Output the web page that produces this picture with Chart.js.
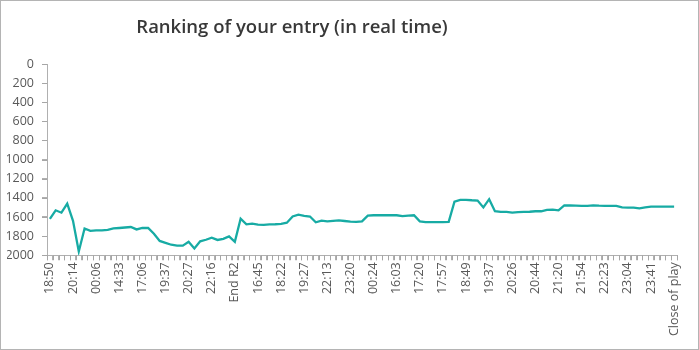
<!DOCTYPE html>
<html>
<head>
<meta charset="utf-8">
<script src="https://cdn.jsdelivr.net/npm/chart.js@4"></script>
<style>
    html, body { margin: 0; padding: 0; background: #fff; }
    #wrap {
        position: relative;
        width: 699px;
        height: 350px;
        box-sizing: border-box;
        border: 1px solid #b4b4b4;
    }
</style>
</head>
<body>
<div id="wrap"><canvas id="rankChart"></canvas></div>
<script>
// --- Data ---
const chartTitle = "Ranking of your entry (in real time)";

// one label shown every 4 categories
const tickLabels = [
    "18:50", "20:14", "00:06", "14:33", "17:06", "19:37", "20:27", "22:16",
    "End R2", "16:45", "18:22", "19:27", "22:13", "23:20", "00:24", "16:03",
    "17:20", "17:57", "18:49", "19:37", "20:26", "20:44", "21:20", "21:54",
    "22:23", "23:04", "23:41", "Close of play"
];
const labelStep = 4;

const ranks = [
    1620, 1530, 1555, 1460, 1640, 1960, 1720, 1745, 1740, 1740, 1735, 1720,
    1715, 1710, 1705, 1730, 1715, 1715,
    1775, 1850, 1870, 1890, 1900, 1900, 1860, 1930, 1855, 1838, 1817, 1840,
    1828, 1803, 1860, 1617, 1677,
    1670, 1680, 1682, 1678, 1676, 1672, 1660, 1595, 1576, 1588, 1595, 1655,
    1638, 1645, 1640, 1635, 1642, 1649,
    1650, 1645, 1585, 1582, 1582, 1582, 1582, 1582, 1590, 1585, 1582, 1645,
    1653, 1653, 1653, 1653, 1650, 1440, 1420,
    1420, 1425, 1428, 1500, 1414, 1540, 1547, 1547, 1555, 1550, 1547, 1545,
    1540, 1540, 1525, 1523, 1530, 1478, 1480, 1482, 1484, 1484, 1478, 1482,
    1484, 1484, 1484, 1500, 1502, 1502, 1510, 1500, 1492, 1491, 1491, 1491, 1491
];

const yTicks = [0, 200, 400, 600, 800, 1000, 1200, 1400, 1600, 1800, 2000];

// --- Chart setup ---
const FONT = "'Open Sans', 'Noto Sans', sans-serif";
const axisColor = "#b0b0b0";
const tickMarkColor = "#a6a6a6";
const textColor = "#595959";

// title is drawn a bit left of centre, like the original
const titlePlugin = {
    id: "offsetTitle",
    afterDraw(chart) {
        const c = chart.ctx;
        c.save();
        c.font = "600 18.5px " + FONT;
        c.fillStyle = "#383838";
        c.textAlign = "center";
        c.textBaseline = "middle";
        c.fillText(chartTitle, 291, 27);
        c.restore();
    },
};

// small outside tick marks (between categories on x, at each value on y)
const tickMarksPlugin = {
    id: "tickMarks",
    afterDraw(chart) {
        const c = chart.ctx;
        const xs = chart.scales.x;
        const ys = chart.scales.y;
        c.save();
        c.strokeStyle = tickMarkColor;
        c.lineWidth = 1;
        c.beginPath();
        const step = xs.getPixelForTick(1) - xs.getPixelForTick(0);
        for (let i = 0; i <= xs.ticks.length; i++) {
            const x = Math.round(xs.getPixelForTick(0) - step / 2 + i * step) + 0.5;
            c.moveTo(x, xs.top);
            c.lineTo(x, xs.top + 5);
        }
        ys.ticks.forEach((t, i) => {
            const y = Math.round(ys.getPixelForTick(i)) + 0.5;
            c.moveTo(ys.right - 5, y);
            c.lineTo(ys.right, y);
        });
        c.stroke();
        c.restore();
    },
};

const ctx = document.getElementById("rankChart").getContext("2d");
const rankChart = new Chart(ctx, {
    type: "line",
    data: {
        labels: ranks.map((_, i) => i),
        datasets: [
            {
                label: "Ranking",
                data: ranks,
                borderColor: "#17ABA4",
                borderWidth: 2.3,
                pointRadius: 0,
                tension: 0,
                fill: false,
            },
        ],
    },
    options: {
        responsive: true,
        maintainAspectRatio: false,
        animation: false,
        layout: {
            padding: { top: 63, left: 6, right: 21, bottom: 11 },
        },
        plugins: {
            legend: { display: false },
            title: { display: false },
            tooltip: { enabled: false },
        },
        scales: {
            x: {
                type: "category",
                offset: true,
                border: { color: axisColor, width: 1 },
                grid: {
                    offset: true,
                    drawOnChartArea: false,
                    tickLength: 5,
                    color: axisColor,
                },
                ticks: {
                    autoSkip: false,
                    maxRotation: 90,
                    minRotation: 90,
                    padding: 2,
                    color: textColor,
                    font: { family: FONT, size: 12.5 },
                    callback: function (value, index) {
                        return index % labelStep === 0
                            ? tickLabels[index / labelStep]
                            : "";
                    },
                },
            },
            y: {
                min: 0,
                max: 2000,
                reverse: true,
                afterBuildTicks: (axis) => {
                    axis.ticks = yTicks.map((v) => ({ value: v }));
                },
                afterFit: (axis) => {
                    axis.width = 40; // keep the axis where the original has it
                },
                border: { color: axisColor, width: 1 },
                grid: {
                    drawOnChartArea: false,
                    tickLength: 5,
                    color: axisColor,
                },
                ticks: {
                    padding: 8,
                    color: textColor,
                    font: { family: FONT, size: 12.5 },
                    callback: (value) => String(value),
                },
            },
        },
    },
    plugins: [titlePlugin, tickMarksPlugin],
});
</script>
</body>
</html>
